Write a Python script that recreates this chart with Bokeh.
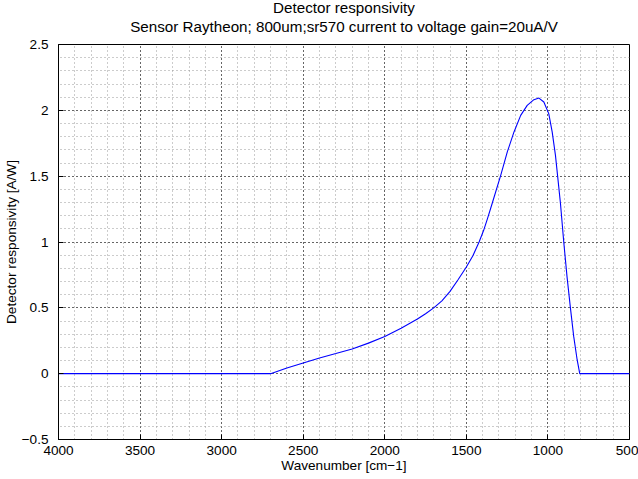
from bokeh.plotting import figure
from bokeh.models import Range1d, FixedTicker
from bokeh.embed import file_html
from bokeh.resources import INLINE

# Data
wavenumber = [4000, 3500, 3000, 2700, 2600, 2500, 2400, 2300, 2200, 2100, 2000, 1900, 1800,
              1750, 1700, 1650, 1600, 1550, 1500, 1460, 1422, 1395, 1370, 1340, 1289, 1249,
              1208, 1167, 1127, 1086, 1055, 1025, 995, 974, 954, 938, 923, 903, 883, 862,
              842, 821, 805, 700, 600, 500]
responsivity = [0, 0, 0, 0, 0.043, 0.081, 0.119, 0.153, 0.188, 0.232, 0.283, 0.345, 0.415,
                0.455, 0.50, 0.553, 0.625, 0.715, 0.81, 0.895, 1.0, 1.085, 1.18, 1.30, 1.508,
                1.684, 1.836, 1.962, 2.038, 2.081, 2.093, 2.063, 1.975, 1.836, 1.66, 1.47, 1.29,
                1.0, 0.737, 0.498, 0.283, 0.106, 0.0, 0, 0, 0]

x_ticks = [4000, 3500, 3000, 2500, 2000, 1500, 1000, 500]
x_tick_labels = ["4000", "3500", "3000", "2500", "2000", "1500", "1000", "500"]
y_ticks = [-0.5, 0, 0.5, 1, 1.5, 2, 2.5]
y_tick_labels = ["\u22120.5", "0", "0.5", "1", "1.5", "2", "2.5"]

title_main = "Detector responsivity"
title_sub = "Sensor Raytheon; 800um;sr570 current to voltage gain=20uA/V"
x_label = "Wavenumber [cm\u22121]"
y_label = "Detector responsivity [A/W]"

FONT = "Liberation Sans"
TITLE_FS = "15.2px"
TICK_FS = "13.6px"
LABEL_FS = "13.6px"
SHIFT = 10  # figure is lifted by this many pixels so the title block has room

p = figure(width=638, height=479 + SHIFT, output_backend="svg", toolbar_location=None,
           x_range=Range1d(4000, 500), y_range=Range1d(-0.5, 2.5),
           title=title_main + "\n" + title_sub, min_border_left=56, min_border_right=9,
           min_border_top=44 + SHIFT, min_border_bottom=40)
p.margin = (-SHIFT, 0, 0, 0)

p.title.text_font = FONT
p.title.text_font_size = TITLE_FS
p.title.text_font_style = "normal"
p.title.text_color = "black"
p.title.align = "center"
try:
    p.title.text_align = "center"
except Exception:
    pass
p.title.text_line_height = 1.15
p.title.vertical_align = "top"
p.title.standoff = 14

p.line(wavenumber, responsivity, line_color="#0000ff", line_width=1.1)

x_minor = [v for v in range(500, 4001, 100)]
y_minor = [round(-0.5 + 0.1 * i, 2) for i in range(31)]

p.xaxis.ticker = FixedTicker(ticks=x_ticks, minor_ticks=x_minor)
p.yaxis.ticker = FixedTicker(ticks=y_ticks, minor_ticks=y_minor)
p.xaxis.major_label_overrides = dict(zip(x_ticks, x_tick_labels))
p.yaxis.major_label_overrides = dict(zip(y_ticks, y_tick_labels))

for ax in (p.xaxis, p.yaxis):
    ax.major_label_text_font = FONT
    ax.major_label_text_font_size = TICK_FS
    ax.axis_label_text_font = FONT
    ax.axis_label_text_font_size = LABEL_FS
    ax.axis_label_text_font_style = "normal"
    ax.major_tick_in = 5
    ax.major_tick_out = 0
    ax.minor_tick_in = 0
    ax.minor_tick_out = 0
    ax.axis_line_color = "black"
    ax.major_tick_line_color = "black"
    ax.major_label_text_color = "black"
    ax.axis_label_text_color = "black"

p.xaxis.axis_label = x_label
p.yaxis.axis_label = y_label
p.xaxis.major_label_standoff = 6
p.xaxis.axis_label_standoff = 0
p.yaxis.major_label_standoff = 10
p.yaxis.axis_label_standoff = 0

p.outline_line_color = "black"
p.outline_line_width = 1
p.outline_line_alpha = 1

for g in (p.xgrid, p.ygrid):
    g.grid_line_color = "black"
    g.grid_line_dash = "1 3"
    g.grid_line_width = 1
    g.minor_grid_line_color = "#999999"
    g.minor_grid_line_dash = "1 3"
    g.minor_grid_line_width = 1

p.background_fill_color = "white"
p.border_fill_color = "white"

open("out.html", "w").write(file_html(p, INLINE))
